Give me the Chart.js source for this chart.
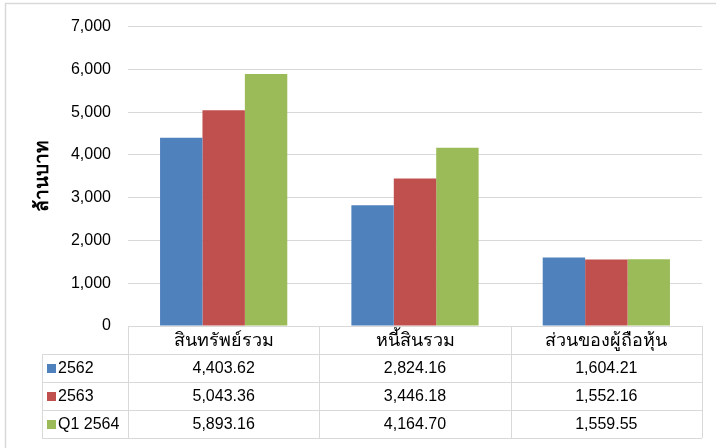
<!DOCTYPE html>
<html>
<head>
<meta charset="utf-8">
<script src="https://cdn.jsdelivr.net/npm/chart.js@4"></script>
<style>
  body { margin: 0; background: #fff; }
  canvas { display: block; }
</style>
</head>
<body>
<canvas id="chart" width="716" height="448"></canvas>
<script>
const categories = ['สินทรัพย์รวม', 'หนี้สินรวม', 'ส่วนของผู้ถือหุ้น'];
const seriesNames = ['2562', '2563', 'Q1 2564'];
const values2562 = [4403.62, 2824.16, 1604.21];
const values2563 = [5043.36, 3446.18, 1552.16];
const valuesQ12564 = [5893.16, 4164.70, 1559.55];
const seriesColors = ['#4F81BD', '#C0504D', '#9BBB59'];
const yMax = 7000;
const yStep = 1000;
const yTitle = 'ล้านบาท';

const fontFamily = "'Liberation Sans', 'Noto Sans', sans-serif";
const lineColor = '#d9d9d9';

function fmt(v) {
    return v.toLocaleString('en-US', { minimumFractionDigits: 2, maximumFractionDigits: 2 });
}

// outer frame + data table under the plot
const tablePlugin = {
    id: 'dataTable',
    beforeDraw(chart) {
        const ctx = chart.ctx;
        ctx.save();
        ctx.strokeStyle = lineColor;
        ctx.lineWidth = 1.5;
        ctx.strokeRect(5.5, 3.5, 720, 460);
        ctx.restore();
    },
    afterDraw(chart) {
        const ctx = chart.ctx;
        const area = chart.chartArea;
        const xs = chart.scales.x;
        const colW = (area.right - area.left) / categories.length;
        const headTop = area.bottom;
        const rowH = 28;
        const labelLeft = 42;
        const rows = [values2562, values2563, valuesQ12564];
        const bottom = headTop + rowH * (rows.length + 1);

        ctx.save();
        ctx.strokeStyle = lineColor;
        ctx.lineWidth = 1;
        const hline = (y, x0, x1) => {
            ctx.beginPath();
            ctx.moveTo(x0, Math.round(y) + 0.5);
            ctx.lineTo(x1, Math.round(y) + 0.5);
            ctx.stroke();
        };
        const vline = (x, y0, y1) => {
            ctx.beginPath();
            ctx.moveTo(Math.round(x) + 0.5, y0);
            ctx.lineTo(Math.round(x) + 0.5, y1);
            ctx.stroke();
        };
        hline(headTop, area.left, area.right);
        for (let r = 1; r <= rows.length + 1; r++) {
            hline(headTop + rowH * r, labelLeft, area.right);
        }
        vline(labelLeft, headTop + rowH, bottom);
        for (let c = 0; c <= categories.length; c++) {
            vline(area.left + colW * c, headTop, bottom);
        }

        ctx.fillStyle = '#000';
        ctx.textBaseline = 'middle';
        ctx.font = '18px ' + fontFamily;
        ctx.textAlign = 'center';
        categories.forEach((cat, i) => {
            ctx.fillText(cat, xs.getPixelForValue(i), headTop + rowH / 2 + 1);
        });
        ctx.font = '16px ' + fontFamily;
        rows.forEach((vals, r) => {
            const cy = headTop + rowH * (r + 1) + rowH / 2 + 1;
            ctx.textAlign = 'center';
            vals.forEach((v, i) => {
                ctx.fillText(fmt(v), xs.getPixelForValue(i), cy);
            });
            ctx.fillStyle = seriesColors[r];
            ctx.fillRect(labelLeft + 5, cy - 5, 9, 9);
            ctx.fillStyle = '#000';
            ctx.textAlign = 'left';
            ctx.fillText(seriesNames[r], labelLeft + 16, cy);
        });
        ctx.restore();
    }
};

new Chart(document.getElementById('chart'), {
    type: 'bar',
    data: {
        labels: categories,
        datasets: [
            { label: seriesNames[0], data: values2562, backgroundColor: seriesColors[0] },
            { label: seriesNames[1], data: values2563, backgroundColor: seriesColors[1] },
            { label: seriesNames[2], data: valuesQ12564, backgroundColor: seriesColors[2] }
        ]
    },
    options: {
        responsive: false,
        animation: false,
        devicePixelRatio: 1,
        layout: { padding: { left: 5, top: 25, right: 14, bottom: 0 } },
        datasets: {
            bar: { categoryPercentage: 0.665, barPercentage: 1.0, borderWidth: 0 }
        },
        plugins: {
            legend: { display: false },
            tooltip: { enabled: false }
        },
        scales: {
            x: {
                grid: { display: false },
                border: { display: false },
                ticks: { display: false },
                afterFit(scale) { scale.height = 122; }
            },
            y: {
                min: 0,
                max: yMax,
                ticks: {
                    stepSize: yStep,
                    padding: 17,
                    color: '#000',
                    font: { size: 16, family: fontFamily },
                    callback: v => v.toLocaleString('en-US')
                },
                grid: { color: lineColor, lineWidth: 1, drawTicks: false },
                border: { display: false },
                title: {
                    display: true,
                    text: yTitle,
                    color: '#000',
                    font: { size: 19, weight: 'bold', family: fontFamily },
                    padding: { top: 26, bottom: 0 }
                },
                afterFit(scale) { scale.width = 123; }
            }
        }
    },
    plugins: [tablePlugin]
});
</script>
</body>
</html>
